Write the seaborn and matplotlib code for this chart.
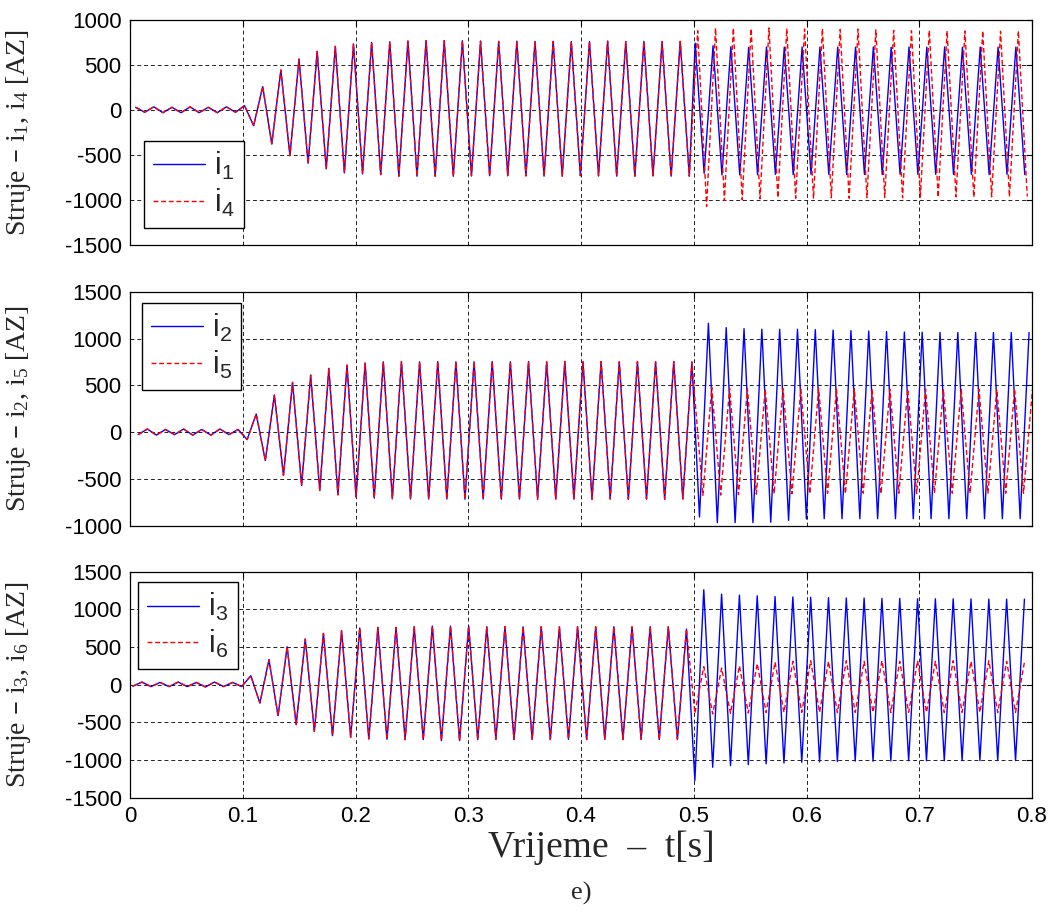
import numpy as np
import pandas as pd
import matplotlib
matplotlib.use('Agg')
import matplotlib.pyplot as plt
import seaborn as sns

# half period of the oscillation (s)
HALF_A = 0.00805   # up to the switching at t = 0.5 s
HALF_B = 0.0079    # after the switching

# time of the first extremum of every segment (s)
t0_top_a, t0_mid_a, t0_bot_a = 0.0050, 0.0073, 0.0025
t0_i1_b, t0_i4_b = 0.5013, 0.5035
t0_i2_b, t0_i5_b = 0.5051, 0.5081
t0_i3_b, t0_i6_b = 0.5010, 0.5010

# successive extrema (AZ), 0 - 0.5 s: both currents of a panel coincide
i14_a = [30, -25, 35, -30, 30, -30, 35, -30, 30, -30, 35, -25,
         48, -174, 259, -377, 444, -507, 566, -592, 651, -655, 707, -699,
         733, -710, 751, -718, 758, -736, 766, -736, 770, -736, 770, -736,
         770, -732, 765, -730, 762, -730, 765, -732, 762, -735, 762, -735,
         760, -730, 762, -732, 765, -735, 760, -735, 762, -732, 760, -735,
         762, -735]
i25_a = [-25, 35, -30, 30, -25, 35, -30, 30, -30, 35, -25, 30, -78,
         195, -301, 397, -461, 532, -567, 610, -621, 681, -667, 716, -691,
         738, -702, 752, -709, 755, -712, 752, -712, 755, -712, 752, -714,
         752, -712, 755, -714, 752, -712, 755, -714, 752, -712, 755, -712,
         752, -714, 755, -712, 752, -714, 755, -712, 752, -714, 755, -712,
         750]
i36_a = [-20, 35, -25, 30, -25, 35, -25, 30, -30, 35, -25, 30, -25,
         119, -243, 332, -411, 504, -530, 606, -619, 681, -676, 716, -698,
         752, -720, 760, -725, 760, -729, 769, -729, 778, -742, 778, -742,
         778, -730, 770, -725, 770, -728, 768, -725, 770, -728, 768, -725,
         770, -728, 768, -725, 770, -728, 768, -725, 770, -728, 768, -725,
         738]

# successive extrema (AZ), 0.5 - 0.8 s
i1_b = [743, -703, 714, -721, 703, -721, 696, -720, 700, -715, 698, -718,
        700, -715, 698, -715, 700, -718, 698, -715, 700, -718, 698, -715,
        700, -715, 698, -715, 700, -715, 698, -715, 700, -718, 698, -715,
        700, -718]
i4_b = [880, -1073, 910, -1006, 910, -999, 905, -985, 912, -975, 905, -980,
        900, -985, 905, -975, 895, -980, 900, -975, 890, -970, 885, -975,
        880, -968, 885, -970, 880, -965, 878, -968, 880, -965, 875, -965,
        878, -960]
i2_b = [-904, 1163, -964, 1117, -964, 1106, -964, 1100, -960, 1099, -940, 1099,
        -925, 1095, -922, 1090, -922, 1085, -922, 1080, -922, 1075, -922, 1070,
        -922, 1068, -922, 1066, -922, 1065, -922, 1065, -922, 1064, -922, 1064,
        -922, 1064]
i5_b = [-674, 479, -670, 470, -665, 465, -660, 461, -656, 465, -656, 461,
        -656, 465, -650, 461, -656, 465, -650, 461, -656, 460, -650, 461,
        -656, 460, -650, 461, -650, 460, -650, 460, -650, 458, -650, 458,
        -650, 458]
i3_b = [-1273, 1260, -1096, 1202, -1074, 1189, -1061, 1180, -1050, 1170, -1040, 1165,
        -1030, 1160, -1025, 1155, -1020, 1150, -1015, 1150, -1015, 1145, -1012, 1145,
        -1010, 1140, -1010, 1140, -1010, 1140, -1008, 1138, -1008, 1136, -1008, 1136,
        -1008, 1136]
i6_b = [-380, 239, -389, 221, -380, 250, -375, 280, -370, 300, -367, 310,
        -367, 318, -367, 310, -370, 318, -367, 310, -367, 318, -370, 310,
        -367, 318, -367, 310, -370, 318, -367, 310, -367, 318, -370, 310,
        -367, 300]

x_ticks = [0, 0.1, 0.2, 0.3, 0.4, 0.5, 0.6, 0.7, 0.8]
x_ticklabels = ['0', '0.1', '0.2', '0.3', '0.4', '0.5', '0.6', '0.7', '0.8']


def make_trace(t0a, va, t0b, vb):
    t = np.concatenate([t0a + HALF_A * np.arange(len(va)),
                        t0b + HALF_B * np.arange(len(vb))])
    return pd.DataFrame({'t': t, 'i': np.concatenate([va, vb])})


sns.set_style('white')
plt.rcParams['font.family'] = ['Liberation Sans', 'DejaVu Sans']
plt.rcParams['axes.unicode_minus'] = False

fig = plt.figure(figsize=(10.52, 9.14), dpi=100)

left, width = 130 / 1052, 902 / 1052
panels = [
    # bottom, height, ylim, yticks, traces, legend position
    (1 - 245 / 914, 225 / 914, (-1500, 1000), np.arange(-1500, 1001, 500),
     [(t0_top_a, i14_a, t0_i1_b, i1_b, '1'), (t0_top_a, i14_a, t0_i4_b, i4_b, '4')],
     ('lower left', (0.0155, 0.075))),
    (1 - 526 / 914, 234.3 / 914, (-1000, 1500), np.arange(-1000, 1501, 500),
     [(t0_mid_a, i25_a, t0_i2_b, i2_b, '2'), (t0_mid_a, i25_a, t0_i5_b, i5_b, '5')],
     ('upper left', (0.0133, 0.952))),
    (1 - 797.7 / 914, 226 / 914, (-1500, 1500), np.arange(-1500, 1501, 500),
     [(t0_bot_a, i36_a, t0_i3_b, i3_b, '3'), (t0_bot_a, i36_a, t0_i6_b, i6_b, '6')],
     ('upper left', (0.009, 0.954))),
]

for k, (bottom, height, ylim, yticks, traces, (loc, anchor)) in enumerate(panels):
    ax = fig.add_axes([left, bottom, width, height])
    styles = [('#0000ff', ''), ('#ff0000', (3.5, 2))]
    for (t0a, va, t0b, vb, idx), (color, dash) in zip(traces, styles):
        df = make_trace(t0a, va, t0b, vb)
        sns.lineplot(data=df, x='t', y='i', ax=ax, color=color, lw=1.0,
                     estimator=None, sort=False,
                     label='i$\\mathregular{_%s}$' % idx)
        if dash:
            ax.lines[-1].set_dashes(dash)

    ax.set_xlim(0, 0.8)
    ax.set_ylim(*ylim)
    ax.set_yticks(yticks)
    ax.set_yticklabels([str(v) for v in yticks])
    ax.set_xticks(x_ticks)
    if k == 2:
        ax.set_xticklabels(x_ticklabels)
        ax.set_xlabel('Vrijeme  \u2013  t[s]', family='Liberation Serif',
                      fontsize=27, va='center')
        ax.xaxis.set_label_coords(0.522, -0.222)
    else:
        ax.set_xticklabels([])
        ax.set_xlabel('')
    a, b = traces[0][4], traces[1][4]
    ax.set_ylabel('Struje \u2013 i$\\mathregular{_%s}$, i$\\mathregular{_%s}$ [AZ]' % (a, b),
                  family='Liberation Serif', fontsize=20)
    ax.yaxis.set_label_coords(-0.108, 0.5)

    ax.grid(True, color='#222222', ls=(0, (4, 3)), lw=0.7)
    ax.tick_params(direction='in', top=True, right=True, length=4, width=0.8,
                   labelsize=16, pad=6, colors='black')
    for sp in ax.spines.values():
        sp.set_color('black')
        sp.set_linewidth(0.9)

    leg = ax.legend(loc=loc, bbox_to_anchor=anchor, borderaxespad=0,
                    fontsize=22, handlelength=1.7, handletextpad=0.3,
                    labelspacing=0.15, borderpad=0.3, fancybox=False,
                    framealpha=1, edgecolor='black')
    leg.get_frame().set_linewidth(1.0)

fig.text(581 / 1052, 1 - 893 / 914, 'e)', ha='center', va='center',
         family='Liberation Serif', fontsize=19)

fig.savefig('out.png', dpi=100)
